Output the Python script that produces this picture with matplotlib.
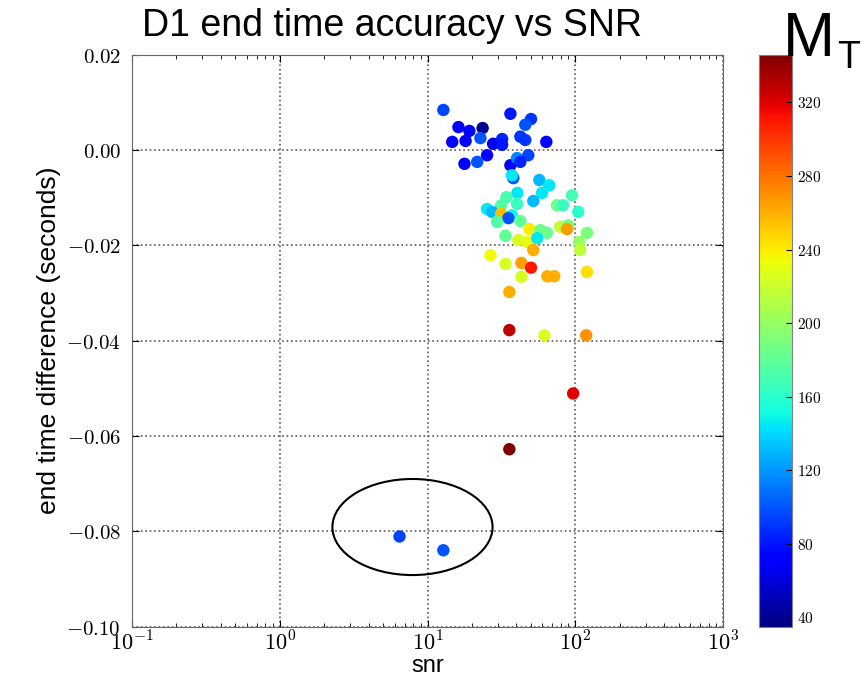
import matplotlib
matplotlib.use("Agg")
import matplotlib.pyplot as plt
from matplotlib.patches import Ellipse
from matplotlib.ticker import FuncFormatter, LogLocator
import numpy as np

# values
snr = [12.8, 36.4, 50.2, 16.2, 19.2, 23.6, 45.9, 14.7, 18.1, 22.8,
       27.8, 32.0, 32.0, 42.5, 45.9, 63.7, 25.3, 21.7, 17.8, 36.4,
       40.4, 48.1, 42.5, 38.1, 37.3, 57.1, 66.7, 59.6, 40.6, 34.2,
       95.1, 31.5, 40.4, 52.0, 75.2, 82.6, 25.3, 27.4, 31.5, 37.3,
       35.3, 104.8, 29.6, 42.5, 48.9, 58.1, 64.4, 79.2, 89.8, 87.9,
       120.0, 33.7, 41.2, 47.2, 55.3, 106.4, 52.0, 108.1, 26.7, 33.7,
       43.2, 50.2, 43.2, 64.7, 72.1, 120.0, 35.8, 35.8, 61.8, 118.6,
       96.8, 35.8, 6.47, 12.8]
dt = [0.0084, 0.0076, 0.0065, 0.0048, 0.0040, 0.0046, 0.0053, 0.0017, 0.0019, 0.0025,
      0.0013, 0.0023, 0.0011, 0.0028, 0.0021, 0.0017, -0.0011, -0.0025, -0.0029, -0.0032,
      -0.0017, -0.0011, -0.0025, -0.0059, -0.0053, -0.0063, -0.0074, -0.0090, -0.0090, -0.0099,
      -0.0095, -0.0116, -0.0113, -0.0107, -0.0116, -0.0116, -0.0124, -0.0130, -0.0134, -0.0137,
      -0.0143, -0.0130, -0.0151, -0.0149, -0.0166, -0.0168, -0.0174, -0.0161, -0.0158, -0.0166,
      -0.0174, -0.0180, -0.0189, -0.0193, -0.0185, -0.0193, -0.0210, -0.0210, -0.0221, -0.0239,
      -0.0237, -0.0247, -0.0266, -0.0265, -0.0265, -0.0256, -0.0298, -0.0378, -0.0389, -0.0389,
      -0.0511, -0.0628, -0.0811, -0.0840]
mt = [95, 80, 90, 70, 75, 40, 100, 75, 70, 100,
      65, 85, 80, 90, 90, 75, 75, 100, 70, 75,
      115, 95, 85, 100, 145, 130, 145, 145, 145, 170,
      170, 175, 165, 130, 185, 165, 145, 130, 255, 150,
      100, 160, 175, 180, 240, 185, 185, 215, 190, 265,
      190, 180, 225, 230, 145, 200, 260, 215, 235, 225,
      265, 310, 225, 260, 260, 245, 260, 330, 225, 270,
      320, 345, 95, 100]

yticks = [0.02, 0.00, -0.02, -0.04, -0.06, -0.08, -0.10]
cticks = [40, 80, 120, 160, 200, 240, 280, 320]

plt.rcParams['mathtext.fontset'] = 'cm'

fig = plt.figure(figsize=(8.66, 6.81), dpi=100)
ax = fig.add_axes([132 / 866, 0.080, 591 / 866, 0.8397])

sc = ax.scatter(snr, dt, c=mt, cmap='jet', vmin=35, vmax=346, s=80,
                linewidths=0, zorder=3)

ax.set_xscale('log')
ax.set_xlim(0.1, 1000)
ax.set_ylim(-0.10, 0.02)
ax.set_yticks(yticks)
ax.yaxis.set_major_formatter(FuncFormatter(lambda v, p: r'$%.2f$' % v))
ax.xaxis.set_major_locator(LogLocator(base=10, numticks=10))
ax.xaxis.set_major_formatter(
    FuncFormatter(lambda v, p: r'$10^{%d}$' % int(round(np.log10(v)))))
ax.tick_params(which='both', direction='in', top=True, right=True, labelsize=15)
ax.tick_params(which='major', length=5, pad=8)
ax.tick_params(axis='x', which='major', pad=3, labelsize=16)
ax.tick_params(which='minor', length=3)
ax.grid(True, which='major', linestyle=':', color='0.35', linewidth=1.2)
for sp in ax.spines.values():
    sp.set_color('0.4')

ax.set_xlabel('snr', family='Liberation Sans', fontsize=17, labelpad=0)
ax.set_ylabel('end time difference (seconds)', family='Liberation Sans',
              fontsize=19, labelpad=4)

# circled outliers
ell = Ellipse((0.4746, 0.174), 0.271, 0.168, transform=ax.transAxes,
              fill=False, edgecolor='k', linewidth=1.5, zorder=4)
ax.add_patch(ell)

cax = fig.add_axes([759 / 866, 0.080, 33 / 866, 0.8397])
cb = fig.colorbar(sc, cax=cax, ticks=cticks)
cb.ax.set_yticklabels([r'$%d$' % t for t in cticks])
cb.ax.tick_params(labelsize=11, direction='in', length=4)
cb.outline.set_edgecolor('0.5')

fig.text(0.453, 0.962, 'D1 end time accuracy vs SNR', family='Liberation Sans',
         fontsize=27, ha='center', va='center')
fig.text(783 / 866, 1 - 56 / 681, 'M', family='Liberation Sans', fontsize=45,
         ha='left', va='baseline')
fig.text(837 / 866, 1 - 68 / 681, 'T', family='Liberation Sans', fontsize=27,
         ha='left', va='baseline')

fig.savefig('out.png', dpi=100)
